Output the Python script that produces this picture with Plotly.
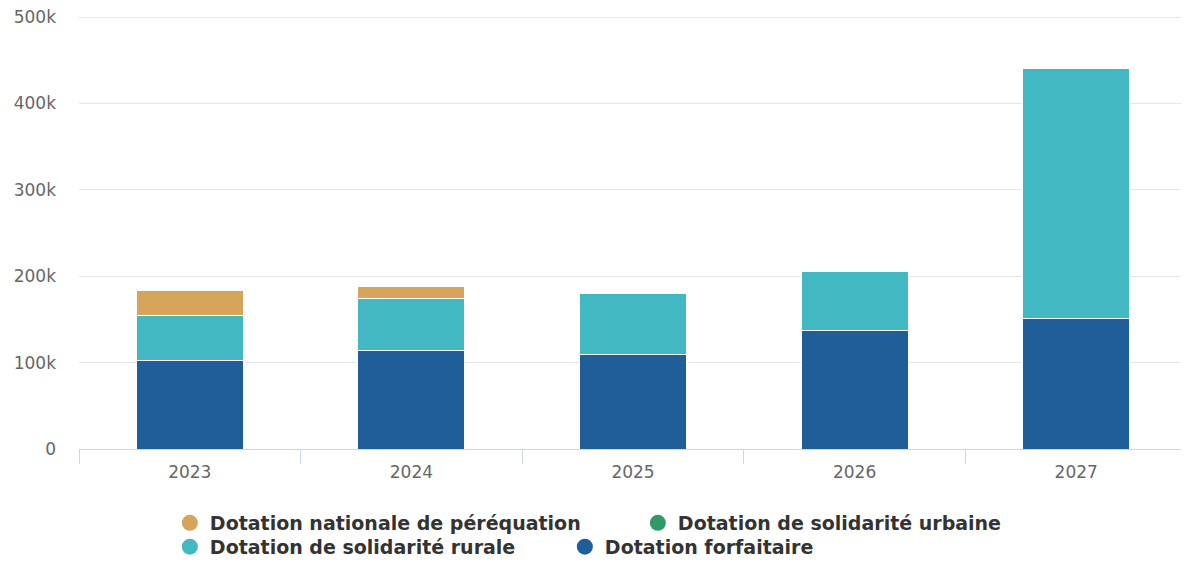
import plotly.graph_objects as go

years = ["2023", "2024", "2025", "2026", "2027"]
forfaitaire = [102800, 113500, 109300, 137400, 150500]
rurale = [51500, 60500, 70500, 68600, 289900]
urbaine = [0, 0, 0, 0, 0]
perequation = [28600, 13900, 0, 0, 0]

names = ["Dotation forfaitaire", "Dotation de solidarité rurale",
         "Dotation de solidarité urbaine", "Dotation nationale de péréquation"]
colors = ["#1f5e99", "#42b9c2", "#2f9a66", "#d4a55a"]
series = [forfaitaire, rurale, urbaine, perequation]

fig = go.Figure()
for n, c, v in zip(names, colors, series):
    fig.add_trace(go.Bar(x=years, y=v, name=n, marker=dict(color=c, line=dict(color="white", width=1)),
                         showlegend=False, legendgroup=n))

# legend proxies (circle symbols), two rows
legend_rows = [("legend", ["Dotation nationale de péréquation", "Dotation de solidarité urbaine"]),
               ("legend2", ["Dotation de solidarité rurale", "Dotation forfaitaire"])]
for lg, row in legend_rows:
    for n in row:
        c = colors[names.index(n)]
        fig.add_trace(go.Scatter(x=[None], y=[None], mode="markers", name=n, legendgroup=n,
                                 marker=dict(symbol="circle", size=18, color=c), legend=lg))

legfont = dict(family="DejaVu Sans", size=19, color="#333333", weight="bold")
fig.update_layout(
    width=1181, height=555,
    margin=dict(l=71, r=2, t=8, b=114, autoexpand=False),
    paper_bgcolor="white", plot_bgcolor="white",
    barmode="stack", bargap=0.517,
    font=dict(family="DejaVu Sans", size=17, color="#666666"),
    legend=dict(orientation="h", x=0.082, xanchor="left", y=-0.127, yanchor="top",
                font=legfont, itemsizing="trace", traceorder="normal",
                entrywidth=423, bgcolor="rgba(0,0,0,0)"),
    legend2=dict(orientation="h", x=0.082, xanchor="left", y=-0.182, yanchor="top",
                 font=legfont, itemsizing="trace", traceorder="normal",
                 entrywidth=350, bgcolor="rgba(0,0,0,0)"),
    xaxis=dict(type="category", showline=True, linecolor="#ccd6eb", linewidth=1,
               ticks="outside", tickson="boundaries", ticklen=14, tickcolor="#ccd6eb",
               showgrid=False, ticklabelstandoff=8, automargin=False,
               tickfont=dict(size=17, color="#666666")),
    yaxis=dict(range=[0, 501200], tickvals=[0, 100000, 200000, 300000, 400000, 500000],
               ticktext=["0", "100k", "200k", "300k", "400k", "500k"],
               showgrid=True, gridcolor="#e6e6e6", gridwidth=1, zeroline=False,
               showline=False, ticklabelstandoff=22, automargin=False,
               ticklabeloverflow="allow",
               tickfont=dict(size=17, color="#666666")),
)

fig.write_html("out.html")
